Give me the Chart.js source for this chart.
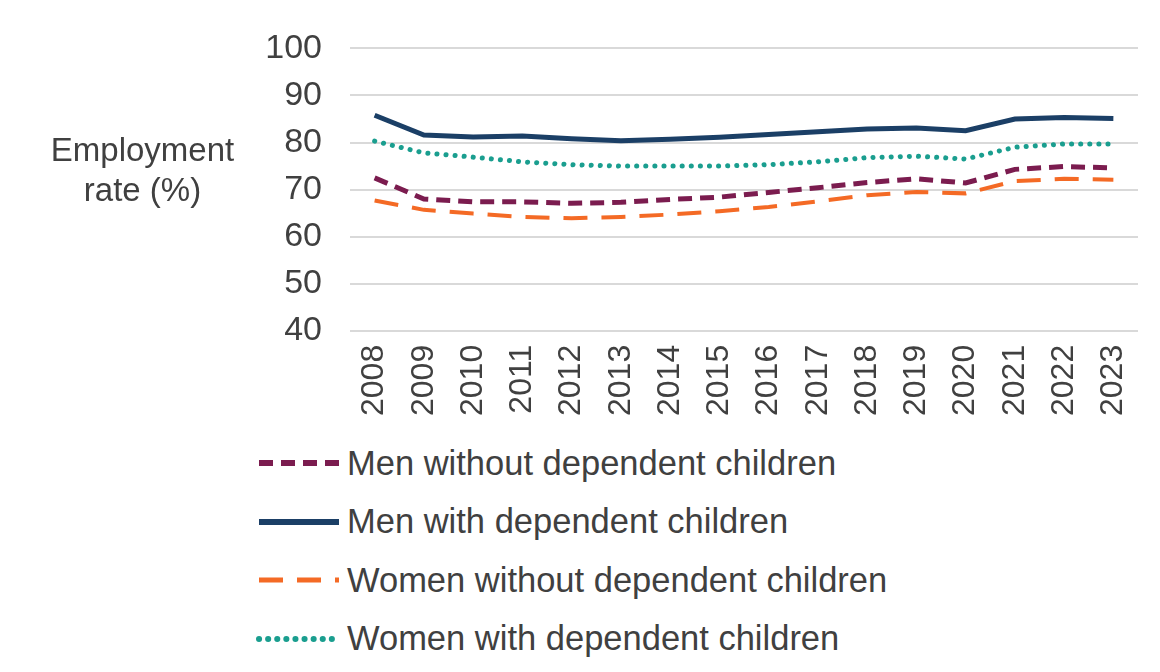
<!DOCTYPE html>
<html><head><meta charset="utf-8">
<script src="https://cdn.jsdelivr.net/npm/chart.js@4"></script>
<style>
body{margin:0;background:#fff;font-family:Arial,"Liberation Sans",sans-serif;color:#404040}
#wrap{position:relative;width:1160px;height:425px}
#ytitle{position:absolute;left:20px;top:130px;width:245px;text-align:center;font-size:33px;line-height:40px;color:#404040}
#legend{position:absolute;left:255px;top:434px}
.item{height:58.5px;display:flex;align-items:center;font-size:34.5px;color:#404040}
.item svg{margin-right:6px}
</style></head><body>
<div id="wrap"><canvas id="c" width="1160" height="422"></canvas>
<div id="ytitle">Employment<br>rate (%)</div></div>
<div id="legend"></div>
<script>
const years=["2008","2009","2010","2011","2012","2013","2014","2015","2016","2017","2018","2019","2020","2021","2022","2023"];
const menWithout=[72.5,68.0,67.4,67.4,67.1,67.3,67.9,68.4,69.4,70.4,71.5,72.3,71.4,74.3,74.9,74.6];
const menWith=[85.8,81.6,81.2,81.4,80.8,80.4,80.7,81.1,81.7,82.3,82.9,83.1,82.5,85.0,85.3,85.1];
const womenWithout=[67.7,65.7,64.9,64.2,63.9,64.2,64.7,65.4,66.3,67.5,68.8,69.5,69.2,71.8,72.3,72.1];
const womenWith=[80.3,77.8,76.9,75.9,75.3,75.0,75.0,75.0,75.3,75.9,76.8,77.1,76.5,79.0,79.7,79.7];
const yTicks=[40,50,60,70,80,90,100];
const series=[
 {label:"Men without dependent children",data:menWithout,color:"#7B1C4F",dash:[14,8],w:5,cap:"butt"},
 {label:"Men with dependent children",data:menWith,color:"#1B3F66",dash:[],w:5,cap:"butt"},
 {label:"Women without dependent children",data:womenWithout,color:"#F46A25",dash:[24,14],w:4,cap:"butt"},
 {label:"Women with dependent children",data:womenWith,color:"#1A9E8F",dash:[0.1,9],w:5,cap:"round"}
];
new Chart(document.getElementById('c'),{type:'line',
 data:{labels:years,datasets:series.map(s=>({label:s.label,data:s.data,borderColor:s.color,borderWidth:s.w,borderDash:s.dash,borderCapStyle:s.cap,pointRadius:0,tension:0,fill:false}))},
 options:{responsive:false,animation:false,layout:{padding:{top:0,right:22,left:0,bottom:0}},
  plugins:{legend:{display:false},tooltip:{enabled:false}},
  scales:{
   x:{offset:true,grid:{display:false},border:{display:false},ticks:{minRotation:90,maxRotation:90,color:"#404040",font:{size:32,family:"Arial"},padding:6}},
   y:{min:40,max:100,afterBuildTicks:a=>{a.ticks=yTicks.map(v=>({value:v}))},afterFit:s=>{s.width=350},
      grid:{color:"#d9d9d9",lineWidth:2,drawTicks:false},border:{display:false},
      ticks:{color:"#404040",font:{size:34,family:"Arial"},padding:28}}
  }}});
const lg=document.getElementById('legend');
series.forEach(s=>{
 const d=document.createElement('div');d.className='item';
 d.innerHTML=`<svg width="86" height="20"><line x1="4" y1="10" x2="84" y2="10" stroke="${s.color}" stroke-width="${s.w+1}" stroke-dasharray="${s.dash.join(' ')}" stroke-linecap="${s.cap}"/></svg><span>${s.label}</span>`;
 lg.appendChild(d);});
</script></body></html>
